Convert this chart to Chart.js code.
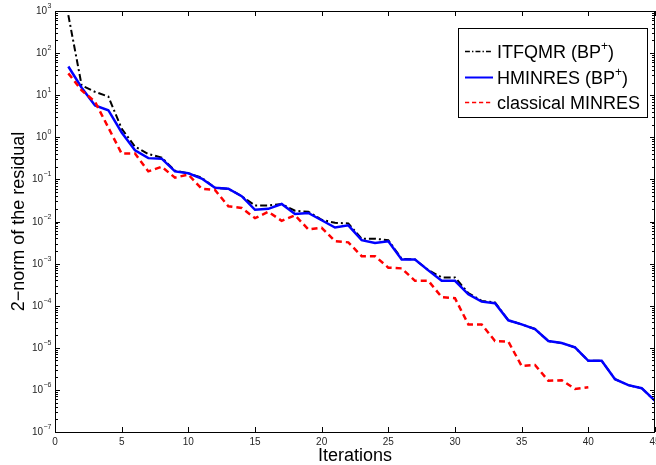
<!DOCTYPE html>
<html>
<head>
<meta charset="utf-8">
<script src="https://cdn.jsdelivr.net/npm/chart.js@4.4.1/dist/chart.umd.min.js"></script>
<style>
html, body { margin: 0; padding: 0; background: #fff; }
#wrap { width: 656px; height: 465px; }
</style>
</head>
<body>
<div id="wrap"><canvas id="residual-chart" width="656" height="465"></canvas></div>
<script>
// iteration numbers (x)
const iterations = [
	1, 2, 3, 4, 5, 6, 7, 8, 9, 10, 11, 12, 13, 14, 15, 16, 17, 18, 19, 20, 21, 22, 23,
	24, 25, 26, 27, 28, 29, 30, 31, 32, 33, 34, 35, 36, 37, 38, 39, 40, 41, 42, 43, 44, 45
];

// residual norms
const itfqmr = [
	800, 17, 12, 9.3, 1.6, 0.6, 0.4, 0.33, 0.16, 0.14, 0.11, 0.063, 0.06, 0.04, 0.024,
	0.024, 0.026, 0.018, 0.017, 0.011, 0.0093, 0.009, 0.0039, 0.0039, 0.0036, 0.0013,
	0.00125, 0.0007, 0.00047, 0.00047, 0.0002, 0.00013, 0.00012, 4.5e-5, 3.6e-5, 2.8e-5,
	1.45e-5, 1.3e-5, 1.02e-5, 4.9e-6, 4.9e-6, 1.8e-6, 1.3e-6, 1.1e-6, 5.5e-7
];
const hminres = [
	48, 15, 5.7, 4.4, 1.3, 0.49, 0.32, 0.31, 0.155, 0.14, 0.105, 0.063, 0.06, 0.04, 0.019,
	0.02, 0.026, 0.015, 0.016, 0.0107, 0.0072, 0.0081, 0.0036, 0.0031, 0.0034, 0.00125,
	0.00125, 0.00069, 0.00039, 0.00039, 0.000186, 0.000125, 0.000115, 4.5e-5, 3.6e-5, 2.8e-5,
	1.45e-5, 1.3e-5, 1.02e-5, 4.9e-6, 4.9e-6, 1.8e-6, 1.3e-6, 1.1e-6, 5.5e-7
];
const classicalMinres = [
	33, 13, 7, 1.7, 0.41, 0.41, 0.155, 0.2, 0.11, 0.13, 0.06, 0.056, 0.023, 0.021, 0.012,
	0.017, 0.0104, 0.014, 0.0065, 0.0071, 0.0034, 0.0032, 0.0015, 0.0015, 0.0008, 0.00077,
	0.00039, 0.00039, 0.00016, 0.00015, 3.6e-5, 3.6e-5, 1.45e-5, 1.4e-5, 3.7e-6, 3.9e-6,
	1.65e-6, 1.7e-6, 1.05e-6, 1.15e-6
];

const seriesLabels = [ 'ITFQMR (BP⁺)', 'HMINRES (BP⁺)', 'classical MINRES' ];
const xTicks = [ 0, 5, 10, 15, 20, 25, 30, 35, 40, 45 ];
const yExponents = [ -7, -6, -5, -4, -3, -2, -1, 0, 1, 2, 3 ];

const toPoints = ( values ) => values.map( ( v, i ) => ( { x: iterations[ i ], y: v } ) );

// draws text where '⁺' becomes a raised small '+'
const drawSupText = ( ctx, text, x, y, size ) => {
	const parts = text.split( '⁺' );
	let cx = x;
	parts.forEach( ( part, i ) => {
		ctx.font = size + 'px "Liberation Sans", Arial, sans-serif';
		ctx.fillText( part, cx, y );
		cx += ctx.measureText( part ).width;
		if ( i < parts.length - 1 ) {
			ctx.font = Math.round( size * 0.65 ) + 'px "Liberation Sans", Arial, sans-serif';
			ctx.fillText( '+', cx, y - size * 0.42 );
			cx += ctx.measureText( '+' ).width;
		}
	} );
};

const matlabAxes = {
	id: 'matlabAxes',
	afterDraw: ( chart ) => {
		const ctx = chart.ctx;
		const { left, right, top, bottom } = chart.chartArea;
		const xs = chart.scales.x;
		const ys = chart.scales.y;
		ctx.save();
		ctx.strokeStyle = '#000';
		ctx.lineWidth = 1;
		ctx.strokeRect( Math.round( left ) + 0.5, Math.round( top ) + 0.5,
			Math.round( right - left ) - 1, Math.round( bottom - top ) );

		ctx.beginPath();
		xTicks.forEach( ( v ) => {
			const px = Math.round( xs.getPixelForValue( v ) ) + 0.5;
			ctx.moveTo( px, bottom );
			ctx.lineTo( px, bottom - 5 );
			ctx.moveTo( px, top );
			ctx.lineTo( px, top + 5 );
		} );
		yExponents.forEach( ( k ) => {
			const py = Math.round( ys.getPixelForValue( Math.pow( 10, k ) ) ) + 0.5;
			ctx.moveTo( left, py );
			ctx.lineTo( left + 5, py );
			ctx.moveTo( right, py );
			ctx.lineTo( right - 5, py );
			if ( k < 3 ) {
				for ( let m = 2; m < 10; m++ ) {
					const my = Math.round( ys.getPixelForValue( m * Math.pow( 10, k ) ) ) + 0.5;
					ctx.moveTo( left, my );
					ctx.lineTo( left + 3, my );
					ctx.moveTo( right, my );
					ctx.lineTo( right - 3, my );
				}
			}
		} );
		ctx.stroke();

		// log tick labels 10^k
		ctx.fillStyle = '#262626';
		ctx.textBaseline = 'alphabetic';
		ctx.textAlign = 'left';
		yExponents.forEach( ( k ) => {
			const py = ys.getPixelForValue( Math.pow( 10, k ) );
			const exp = k < 0 ? '−' + ( -k ) : String( k );
			ctx.font = '7px "Liberation Sans", Arial, sans-serif';
			const ew = ctx.measureText( exp ).width;
			ctx.font = '10px "Liberation Sans", Arial, sans-serif';
			const bw = ctx.measureText( '10' ).width;
			const x0 = 51 - ew - bw;
			ctx.fillText( '10', x0, py + 3 );
			ctx.font = '7px "Liberation Sans", Arial, sans-serif';
			ctx.fillText( exp, x0 + bw + 0.5, py - 3 );
		} );

		// legend box
		const box = { x: 458.5, y: 28.5, w: 189, h: 89 };
		ctx.fillStyle = '#fff';
		ctx.fillRect( box.x, box.y, box.w, box.h );
		ctx.strokeRect( box.x, box.y, box.w, box.h );
		const rowY = [ 51, 77, 102 ];
		chart.data.datasets.forEach( ( ds, i ) => {
			ctx.beginPath();
			ctx.strokeStyle = ds.borderColor;
			ctx.lineWidth = i === 1 ? 2 : 1.5;
			ctx.setLineDash( ds.borderDash ? ds.borderDash.map( ( d ) => d * 0.7 ) : [] );
			ctx.moveTo( 465, rowY[ i ] + 0.5 );
			ctx.lineTo( 493, rowY[ i ] + 0.5 );
			ctx.stroke();
			ctx.setLineDash( [] );
			ctx.fillStyle = '#000';
			drawSupText( ctx, ds.label, 497, rowY[ i ] + 7, 18 );
		} );
		ctx.restore();
	}
};

const ctx = document.getElementById( 'residual-chart' ).getContext( '2d' );
const chart = new Chart( ctx, {
	type: 'line',
	data: {
		datasets: [
			{
				label: seriesLabels[ 0 ],
				data: toPoints( itfqmr ),
				borderColor: '#000000',
				borderWidth: 2,
				borderDash: [ 7, 3, 2, 3 ],
				order: 3,
			},
			{
				label: seriesLabels[ 1 ],
				data: toPoints( hminres ),
				borderColor: '#0000ff',
				borderWidth: 2.5,
				order: 2,
			},
			{
				label: seriesLabels[ 2 ],
				data: toPoints( classicalMinres ),
				borderColor: '#ff0000',
				borderWidth: 2.5,
				borderDash: [ 6, 4 ],
				order: 1,
			},
		],
	},
	options: {
		responsive: false,
		animation: false,
		devicePixelRatio: 1,
		layout: { padding: { top: 11, right: 1, left: 0, bottom: 0 } },
		elements: {
			point: { radius: 0, hoverRadius: 0 },
			line: { tension: 0, fill: false },
		},
		plugins: {
			legend: { display: false },
			tooltip: { enabled: false },
		},
		scales: {
			x: {
				type: 'linear',
				min: 0,
				max: 45,
				grid: { display: false },
				border: { display: false },
				ticks: {
					stepSize: 5,
					autoSkip: false,
					maxRotation: 0,
					padding: -4,
					color: '#262626',
					font: { family: '"Liberation Sans", Arial, sans-serif', size: 10 },
				},
				title: {
					display: true,
					text: 'Iterations',
					color: '#000',
					padding: 0,
					font: { family: '"Liberation Sans", Arial, sans-serif', size: 18, lineHeight: 1 },
				},
				afterFit: ( scale ) => {
					scale.height = 33;
					scale.paddingLeft = 0;
					scale.paddingRight = 0;
				},
			},
			y: {
				type: 'logarithmic',
				min: 1e-7,
				max: 1e3,
				grid: { display: false },
				border: { display: false },
				ticks: { display: false },
				title: {
					display: true,
					text: '2−norm of the residual',
					color: '#000',
					padding: { top: 10, bottom: 0 },
					font: { family: '"Liberation Sans", Arial, sans-serif', size: 18, lineHeight: 1 },
				},
				afterFit: ( scale ) => {
					scale.width = 55;
					scale.paddingTop = 0;
					scale.paddingBottom = 0;
				},
			},
		},
	},
	plugins: [ matlabAxes ],
} );
</script>
</body>
</html>
